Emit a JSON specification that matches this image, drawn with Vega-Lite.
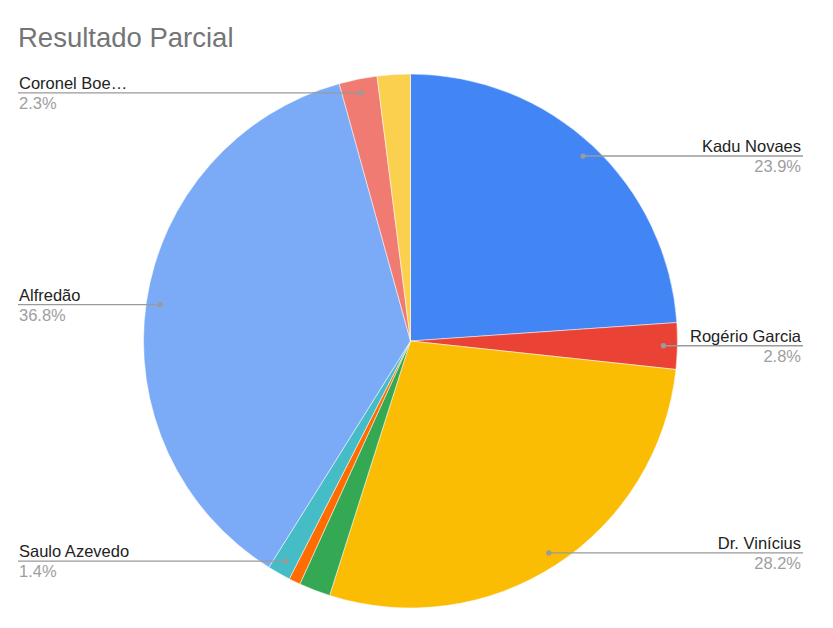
{
  "$schema": "https://vega.github.io/schema/vega-lite/v6.json",
  "autosize": "none",
  "width": 785,
  "height": 534,
  "padding": {"left": 18, "top": 74, "right": 30, "bottom": 20},
  "title": {
    "text": "Resultado Parcial",
    "anchor": "start",
    "frame": "group",
    "baseline": "alphabetic",
    "offset": -1,
    "fontSize": 27.5,
    "fontWeight": "normal",
    "font": "Liberation Sans",
    "color": "#757575"
  },
  "data": {
    "values": [
      {"ordem": 1, "candidato": "Kadu Novaes", "pct": 0.239, "rotulo": true},
      {"ordem": 2, "candidato": "Rogério Garcia", "pct": 0.028, "rotulo": true},
      {"ordem": 3, "candidato": "Dr. Vinícius", "pct": 0.282, "rotulo": true},
      {"ordem": 4, "candidato": "Candidato 4", "pct": 0.019, "rotulo": false},
      {"ordem": 5, "candidato": "Candidato 5", "pct": 0.007, "rotulo": false},
      {"ordem": 6, "candidato": "Saulo Azevedo", "pct": 0.014, "rotulo": true},
      {"ordem": 7, "candidato": "Alfredão", "pct": 0.368, "rotulo": true},
      {"ordem": 8, "candidato": "Coronel Boe…", "pct": 0.023, "rotulo": true},
      {"ordem": 9, "candidato": "Candidato 9", "pct": 0.020, "rotulo": false}
    ]
  },
  "transform": [
    {"window": [{"op": "sum", "field": "pct", "as": "acum"}], "sort": [{"field": "ordem"}], "frame": [null, 0]},
    {"calculate": "(datum.acum - datum.pct / 2) * 2 * PI", "as": "ang"},
    {"calculate": "0.9476 * sin(datum.ang)", "as": "px"},
    {"calculate": "0.9476 * cos(datum.ang)", "as": "py"},
    {"calculate": "datum.px > 0 ? 1.47 : -1.47", "as": "borda"}
  ],
  "resolve": {"scale": {"x": "shared", "y": "shared"}},
  "layer": [
    {
      "mark": {"type": "arc", "stroke": "#ffffff", "strokeWidth": 0.5},
      "encoding": {
        "theta": {"field": "pct", "type": "quantitative", "stack": true},
        "order": {"field": "ordem", "type": "quantitative"},
        "color": {
          "field": "candidato",
          "type": "nominal",
          "legend": null,
          "scale": {
            "domain": ["Kadu Novaes", "Rogério Garcia", "Dr. Vinícius", "Candidato 4", "Candidato 5", "Saulo Azevedo", "Alfredão", "Coronel Boe…", "Candidato 9"],
            "range": ["#4285F4", "#EA4335", "#FBBC04", "#34A853", "#FF6D01", "#46BDC6", "#7BAAF7", "#F07B72", "#FCD04F"]
          }
        }
      }
    },
    {
      "transform": [{"filter": "datum.rotulo"}],
      "mark": {"type": "rule", "color": "#9a9a9a", "strokeWidth": 1.3},
      "encoding": {
        "x": {"field": "px", "type": "quantitative", "scale": {"domain": [-1.47, 1.47], "nice": false, "zero": false}, "axis": null},
        "x2": {"field": "borda"},
        "y": {"field": "py", "type": "quantitative", "scale": {"domain": [-1, 1], "nice": false, "zero": false}, "axis": null}
      }
    },
    {
      "transform": [{"filter": "datum.rotulo"}],
      "mark": {"type": "point", "filled": true, "color": "#9a9a9a", "size": 28, "opacity": 1},
      "encoding": {
        "x": {"field": "px", "type": "quantitative"},
        "y": {"field": "py", "type": "quantitative"}
      }
    },
    {
      "transform": [{"filter": "datum.rotulo && datum.px > 0"}],
      "mark": {"type": "text", "align": "right", "baseline": "alphabetic", "dy": -4, "dx": -2, "fontSize": 16.5, "font": "Liberation Sans", "color": "#222222"},
      "encoding": {
        "x": {"field": "borda", "type": "quantitative"},
        "y": {"field": "py", "type": "quantitative"},
        "text": {"field": "candidato"}
      }
    },
    {
      "transform": [{"filter": "datum.rotulo && datum.px > 0"}],
      "mark": {"type": "text", "align": "right", "baseline": "alphabetic", "dy": 16, "dx": -2, "fontSize": 16.5, "font": "Liberation Sans", "color": "#9e9e9e"},
      "encoding": {
        "x": {"field": "borda", "type": "quantitative"},
        "y": {"field": "py", "type": "quantitative"},
        "text": {"field": "pct", "format": ".1%"}
      }
    },
    {
      "transform": [{"filter": "datum.rotulo && datum.px < 0"}],
      "mark": {"type": "text", "align": "left", "baseline": "alphabetic", "dy": -4, "dx": 1, "fontSize": 16.5, "font": "Liberation Sans", "color": "#222222"},
      "encoding": {
        "x": {"field": "borda", "type": "quantitative"},
        "y": {"field": "py", "type": "quantitative"},
        "text": {"field": "candidato"}
      }
    },
    {
      "transform": [{"filter": "datum.rotulo && datum.px < 0"}],
      "mark": {"type": "text", "align": "left", "baseline": "alphabetic", "dy": 16, "dx": 1, "fontSize": 16.5, "font": "Liberation Sans", "color": "#9e9e9e"},
      "encoding": {
        "x": {"field": "borda", "type": "quantitative"},
        "y": {"field": "py", "type": "quantitative"},
        "text": {"field": "pct", "format": ".1%"}
      }
    }
  ],
  "config": {"view": {"stroke": null}}
}
